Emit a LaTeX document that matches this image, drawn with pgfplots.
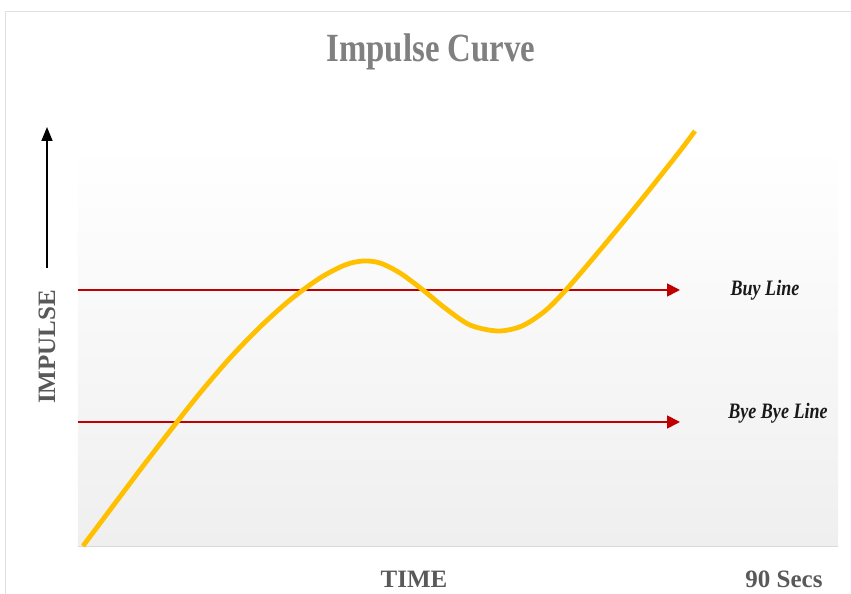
\documentclass[border=0pt]{standalone}
\usepackage{fontspec}
\setmainfont{Liberation Serif}
\newfontfamily\condfont[FakeStretch=0.82]{Liberation Serif}
\usepackage{pgfplots}
\pgfplotsset{compat=1.18}
\usetikzlibrary{arrows.meta}
\definecolor{curveorange}{HTML}{FFC000}
\definecolor{linered}{HTML}{C00000}
\definecolor{titlegray}{HTML}{808080}
\definecolor{labelgray}{HTML}{595959}
\definecolor{bgbottom}{HTML}{EFEFEF}
\begin{document}
\begin{tikzpicture}
\begin{axis}[
  scale only axis,
  width=760pt, height=401pt,
  xmin=78, xmax=838, ymin=48, ymax=449,
  axis line style={draw=none},
  xtick=\empty, ytick=\empty,
  clip=false,
  axis background/.style={shade, top color=white, bottom color=bgbottom},
]
% outer frame and bounding box
\draw[black!12, line width=0.8pt] (axis cs:5,-10) -- (axis cs:5,583) -- (axis cs:860,583);
\draw[black!15, line width=1pt] (axis cs:78,48) -- (axis cs:838,48);
\coordinate (ll) at (axis cs:0,0);
\coordinate (ur) at (axis cs:851,594);
% horizontal red arrows
\addplot[linered, line width=1.8pt, -{Triangle[length=13pt,width=13pt]}] coordinates {(78,304) (680,304)};
\addplot[linered, line width=1.8pt, -{Triangle[length=13pt,width=13pt]}] coordinates {(78,172) (680,172)};
% impulse curve
\addplot[curveorange, line width=4.8pt, smooth, tension=0.5] coordinates {
(83,48) (110,84) (140,124) (170,163) (200,201) (230,236) (260,267) (290,294)
(320,316) (345,329) (363,333) (380,331) (400,321) (423,304) (445,286) (470,269)
(498,263) (522,268) (545,283) (565,303) (590,332) (620,368) (650,405) (680,443) (695,463)};
% y arrow
\draw[black, line width=1.6pt, -{Triangle[length=14pt,width=11pt]}] (axis cs:47,326) -- (axis cs:47,467);
% texts
\node[text=titlegray, font=\condfont\bfseries\fontsize{40}{44}\selectfont] at (axis cs:431,542) {Impulse Curve};
\node[text=labelgray, font=\bfseries\fontsize{25}{28}\selectfont] at (axis cs:414,15) {TIME};
\node[text=labelgray, font=\bfseries\fontsize{25}{28}\selectfont] at (axis cs:784,15) {90 Secs};
\node[text=labelgray, rotate=90, font=\bfseries\fontsize{25}{28}\selectfont] at (axis cs:47,247) {IMPULSE};
\node[text=black!90, font=\condfont\bfseries\itshape\fontsize{22}{24}\selectfont] at (axis cs:765,304) {Buy Line};
\node[text=black!90, font=\condfont\bfseries\itshape\fontsize{22}{24}\selectfont] at (axis cs:778,181) {Bye Bye Line};
\end{axis}
\pgfresetboundingbox
\path (ll) rectangle (ur);
\end{tikzpicture}
\end{document}
